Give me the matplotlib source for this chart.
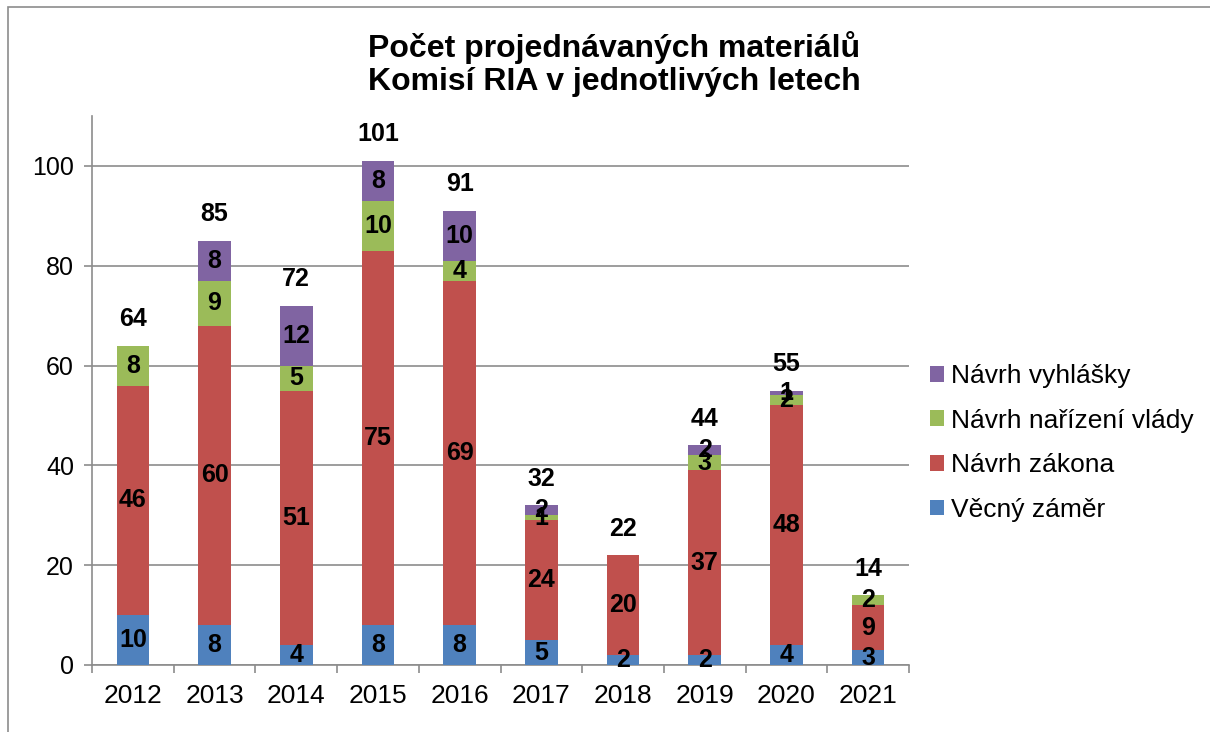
import matplotlib.pyplot as plt
import numpy as np
from matplotlib.patches import Rectangle

plt.rcParams['font.family'] = ['Liberation Sans', 'DejaVu Sans']

# Data
years = ['2012', '2013', '2014', '2015', '2016', '2017', '2018', '2019', '2020', '2021']
vecny_zamer = [10, 8, 4, 8, 8, 5, 2, 2, 4, 3]
navrh_zakona = [46, 60, 51, 75, 69, 24, 20, 37, 48, 9]
navrh_narizeni = [8, 9, 5, 10, 4, 1, 0, 3, 2, 2]
navrh_vyhlasky = [0, 8, 12, 8, 10, 2, 0, 2, 1, 0]
totals = [64, 85, 72, 101, 91, 32, 22, 44, 55, 14]

series = [
    ('Věcný záměr', vecny_zamer, '#4f81bd'),
    ('Návrh zákona', navrh_zakona, '#c0504d'),
    ('Návrh nařízení vlády', navrh_narizeni, '#9bbb59'),
    ('Návrh vyhlášky', navrh_vyhlasky, '#8064a2'),
]

fig = plt.figure(figsize=(12.1, 7.32), dpi=100)
ax = fig.add_axes([92 / 1210, 1 - 665 / 732, 817 / 1210, 549 / 732])

# outer chart border
fig.patches.append(Rectangle((8 / 1210, -0.05), 1.1, 1 - 7 / 732 + 0.05, transform=fig.transFigure,
                             fill=False, edgecolor='#8c8c8c', linewidth=1.2))

x = np.arange(len(years))
bottom = np.zeros(len(years))
for name, vals, color in series:
    vals = np.array(vals)
    ax.bar(x, vals, width=0.4, bottom=bottom, color=color, label=name, zorder=3)
    for xi, v, b in zip(x, vals, bottom):
        if v > 0:
            ax.text(xi, b + v / 2, str(v), ha='center', va='center', fontsize=18,
                    fontweight='bold', zorder=4)
    bottom += vals

for xi, t in zip(x, totals):
    ax.text(xi, t + 5.3, str(t), ha='center', va='center', fontsize=18, fontweight='bold')

ax.set_xlim(-0.5, len(years) - 0.5)
ax.set_ylim(0, 110)
ax.set_yticks([0, 20, 40, 60, 80, 100])
ax.set_xticks(x)
ax.set_xticklabels(years)
ax.set_xticks(np.arange(-0.5, len(years)), minor=True)
ax.tick_params(axis='x', which='major', length=0, labelsize=19, pad=14)
ax.tick_params(axis='x', which='minor', length=6, color='#8c8c8c', width=1.2)
ax.tick_params(axis='y', length=6, color='#8c8c8c', width=1.2, labelsize=18, pad=7)
ax.grid(axis='y', color='#8c8c8c', linewidth=1.2, zorder=0)
for s in ['top', 'right']:
    ax.spines[s].set_visible(False)
for s in ['left', 'bottom']:
    ax.spines[s].set_color('#8c8c8c')
    ax.spines[s].set_linewidth(1.2)

fig.text(614 / 1210, 1 - 64 / 732, 'Počet projednávaných materiálů\nKomisí RIA v jednotlivých letech',
         ha='center', va='center', fontsize=23, fontweight='bold', linespacing=1.17)

handles, labels = ax.get_legend_handles_labels()
fig.legend(handles[::-1], labels[::-1], loc='center left', bbox_to_anchor=(906 / 1210, 1 - 443 / 732),
           frameon=False, fontsize=19, handlelength=0.55, handleheight=0.55, handletextpad=0.25,
           labelspacing=0.78)

fig.savefig('out.png', dpi=100)
